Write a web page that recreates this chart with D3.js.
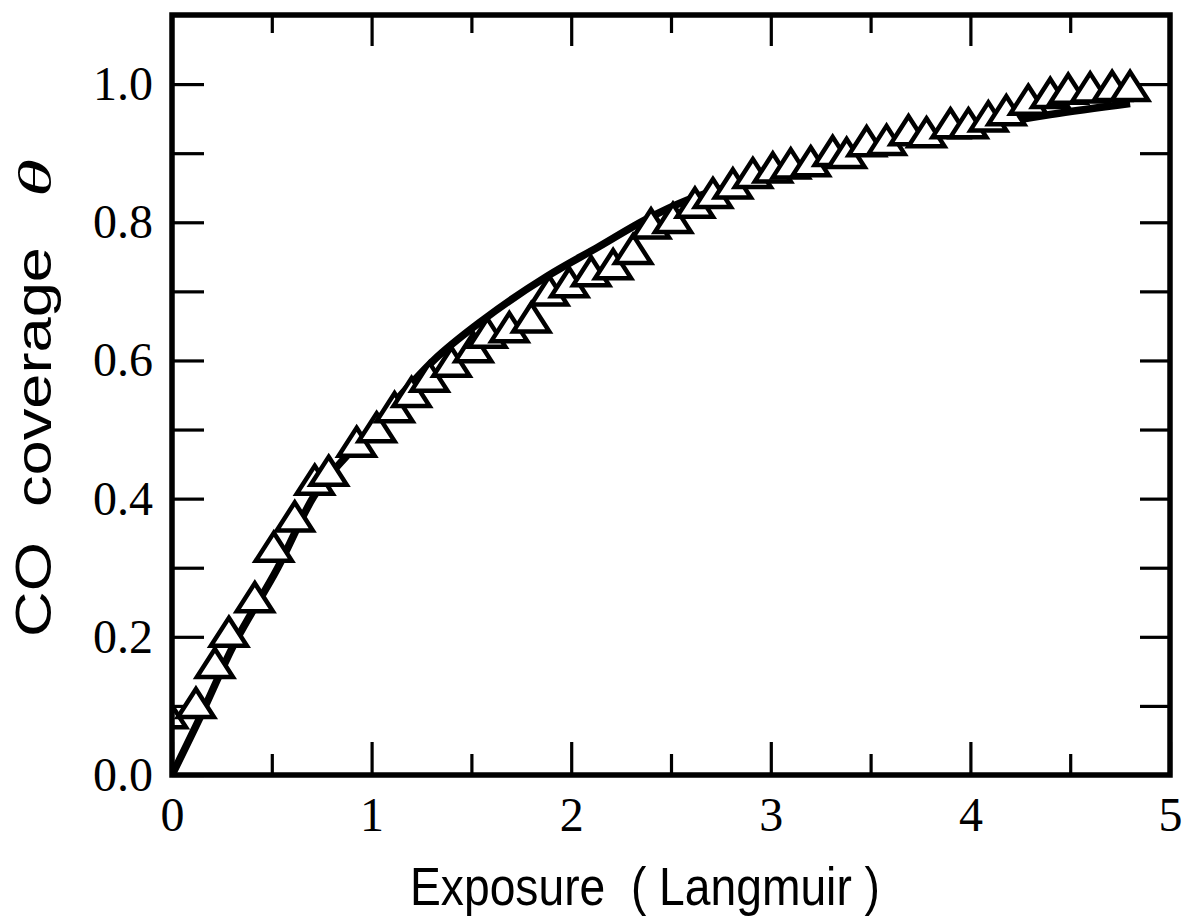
<!DOCTYPE html>
<html>
<head>
<meta charset="utf-8">
<script src="https://cdn.jsdelivr.net/npm/d3@7"></script>
<style>
  html, body { margin: 0; padding: 0; background: #fff; }
  svg { display: block; }
</style>
</head>
<body>
<div id="chart"></div>
<script>
// ---- Data ----
const exposure = [-0.02, 0.12, 0.215, 0.285, 0.415, 0.51, 0.615, 0.715, 0.785, 0.925,
  1.025, 1.115, 1.20, 1.29, 1.40, 1.51, 1.58, 1.69, 1.80, 1.89,
  1.99, 2.10, 2.21, 2.31, 2.40, 2.51, 2.62, 2.71, 2.81, 2.91,
  3.01, 3.10, 3.20, 3.31, 3.38, 3.48, 3.58, 3.69, 3.78, 3.90,
  3.99, 4.09, 4.18, 4.29, 4.40, 4.49, 4.60, 4.71, 4.80];
const coverage = [0.082, 0.097, 0.155, 0.200, 0.250, 0.323, 0.367, 0.420, 0.433, 0.475,
  0.496, 0.525, 0.547, 0.569, 0.591, 0.612, 0.633, 0.641, 0.655, 0.694,
  0.706, 0.722, 0.732, 0.754, 0.791, 0.799, 0.821, 0.835, 0.849, 0.864,
  0.872, 0.878, 0.881, 0.896, 0.893, 0.910, 0.912, 0.926, 0.923, 0.936,
  0.936, 0.946, 0.955, 0.970, 0.980, 0.986, 0.988, 0.990, 0.990];

// fitted curve (solid line)
const fitExposure = [0, 0.14, 0.30, 0.53, 0.71, 0.90, 1.10, 1.31, 1.56, 1.88,
  2.14, 2.38, 2.58, 2.80, 3.00, 3.25, 3.50, 3.75, 4.00, 4.40, 4.80];
const fitCoverage = [0, 0.083, 0.183, 0.300, 0.403, 0.470, 0.535, 0.600, 0.659, 0.722,
  0.765, 0.805, 0.832, 0.853, 0.870, 0.890, 0.907, 0.922, 0.936, 0.956, 0.972];

const xMajorTicks = [0, 1, 2, 3, 4, 5];
const xMinorTicks = [0.5, 1.5, 2.5, 3.5, 4.5];
const yTicks = [0, 0.1, 0.2, 0.3, 0.4, 0.5, 0.6, 0.7, 0.8, 0.9, 1.0];
const yLabelTicks = [0, 0.2, 0.4, 0.6, 0.8, 1.0];

const xTitle = "Exposure  ( Langmuir )";
const yTitle = "CO  coverage";
const yTitleSymbol = "θ";

// ---- Layout ----
const W = 1184, H = 918;
const mLeft = 172, mRight = 1170, mTop = 15, mBottom = 775;
const serif = "'Liberation Serif', 'Times New Roman', Times, serif";
const sans = "'Liberation Sans', Arial, Helvetica, sans-serif";

const x = d3.scaleLinear().domain([0, 5]).range([mLeft, mRight]);
const y = d3.scaleLinear().domain([0, 1.1]).range([mBottom, mTop]);

const svg = d3.select("#chart").append("svg")
  .attr("width", W).attr("height", H)
  .style("background", "#fff");

svg.append("defs").append("clipPath").attr("id", "plotclip")
  .append("rect").attr("x", mLeft).attr("y", mTop)
  .attr("width", mRight - mLeft).attr("height", mBottom - mTop);

function styleAxis(g, showText) {
  g.select(".domain").remove();
  g.selectAll(".tick line").attr("stroke", "#000").attr("stroke-width", 3.2);
  g.selectAll(".tick text")
    .attr("fill", "#000")
    .style("font-family", serif)
    .style("font-size", "48px");
  if (!showText) g.selectAll(".tick text").remove();
}

// left axis: ticks inward every 0.1, labels every 0.2
svg.append("g").attr("transform", `translate(${mLeft},0)`)
  .call(d3.axisLeft(y).tickValues(yTicks).tickSize(-32).tickPadding(19)
    .tickFormat(d => yLabelTicks.some(v => Math.abs(v - d) < 1e-9) ? d3.format(".1f")(d) : ""))
  .call(g => styleAxis(g, true));

// right axis: inward ticks, no labels
svg.append("g").attr("transform", `translate(${mRight},0)`)
  .call(d3.axisRight(y).tickValues(yTicks.filter(v => v > 0)).tickSize(-30))
  .call(g => styleAxis(g, false));

// bottom axis major (labels) and minor
svg.append("g").attr("transform", `translate(0,${mBottom})`)
  .call(d3.axisBottom(x).tickValues(xMajorTicks).tickSize(-33).tickPadding(22).tickFormat(d3.format("d")))
  .call(g => styleAxis(g, true));
svg.append("g").attr("transform", `translate(0,${mBottom})`)
  .call(d3.axisBottom(x).tickValues(xMinorTicks).tickSize(-21))
  .call(g => styleAxis(g, false));

// top axis major and minor (no labels)
svg.append("g").attr("transform", `translate(0,${mTop})`)
  .call(d3.axisTop(x).tickValues(xMajorTicks.filter(v => v > 0 && v < 5)).tickSize(-31))
  .call(g => styleAxis(g, false));
svg.append("g").attr("transform", `translate(0,${mTop})`)
  .call(d3.axisTop(x).tickValues(xMinorTicks).tickSize(-18))
  .call(g => styleAxis(g, false));

// fitted curve
const fit = fitExposure.map((v, i) => [v, fitCoverage[i]]);
svg.append("path")
  .datum(fit)
  .attr("clip-path", "url(#plotclip)")
  .attr("fill", "none")
  .attr("stroke", "#000")
  .attr("stroke-width", 7.5)
  .attr("stroke-linejoin", "round")
  .attr("d", d3.line().x(d => x(d[0])).y(d => y(d[1])).curve(d3.curveMonotoneX));

// triangle markers
const pts = exposure.map((v, i) => [v, coverage[i]]);
const tri = "M0,-19L18,9L-18,9Z";
svg.append("g").attr("clip-path", "url(#plotclip)")
  .selectAll("path.pt").data(pts).join("path")
  .attr("class", "pt")
  .attr("d", tri)
  .attr("transform", d => `translate(${x(d[0])},${y(d[1])})`)
  .attr("fill", "#fff")
  .attr("stroke", "#000")
  .attr("stroke-width", 4.5)
  .attr("stroke-linejoin", "miter");

// frame
svg.append("rect")
  .attr("x", mLeft).attr("y", mTop)
  .attr("width", mRight - mLeft).attr("height", mBottom - mTop)
  .attr("fill", "none").attr("stroke", "#000").attr("stroke-width", 5.5);

// x title
svg.append("text")
  .attr("x", 410).attr("y", 905)
  .attr("textLength", 470).attr("lengthAdjust", "spacingAndGlyphs")
  .style("white-space", "pre")
  .style("font-family", sans).style("font-size", "53px").attr("fill", "#000")
  .text(xTitle);

// y title (rotated)
const yt = svg.append("g").attr("transform", "translate(51,0) rotate(-90)");
yt.append("text")
  .attr("x", -637).attr("y", 0)
  .attr("textLength", 390).attr("lengthAdjust", "spacingAndGlyphs")
  .style("white-space", "pre")
  .style("font-family", sans).style("font-size", "50px").attr("fill", "#000")
  .text(yTitle);
yt.append("text")
  .attr("x", -197).attr("y", 0)
  .attr("textLength", 38).attr("lengthAdjust", "spacingAndGlyphs")
  .style("font-family", serif).style("font-style", "italic")
  .style("font-size", "46px").attr("fill", "#000")
  .text(yTitleSymbol);
</script>
</body>
</html>
